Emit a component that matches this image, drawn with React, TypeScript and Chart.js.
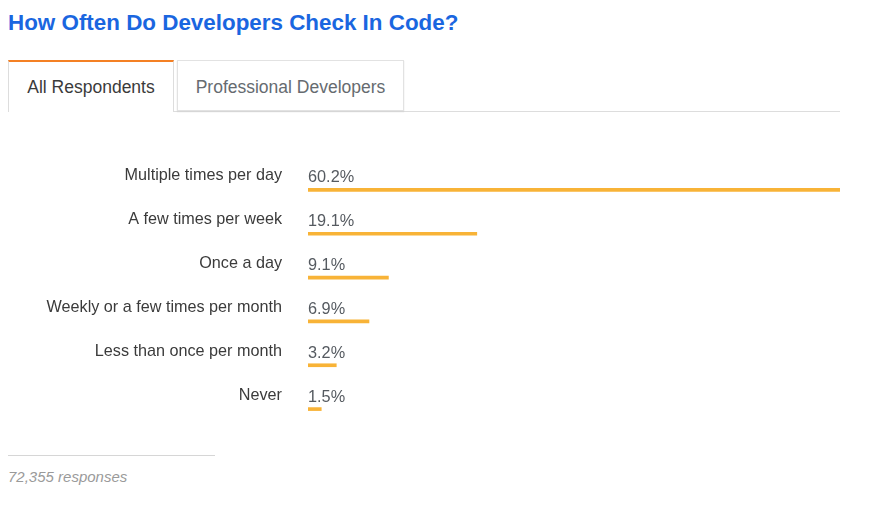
import React, { useEffect, useRef } from "react";
import { Chart, registerables } from "chart.js";

Chart.register(...registerables);

const categories = [
  "Multiple times per day",
  "A few times per week",
  "Once a day",
  "Weekly or a few times per month",
  "Less than once per month",
  "Never",
];
const values = [60.2, 19.1, 9.1, 6.9, 3.2, 1.5];
const titleText = "How Often Do Developers Check In Code?";
const tabLabels = ["All Respondents", "Professional Developers"];
const footerText = "72,355 responses";

const FONT = "Arial, 'Liberation Sans', Helvetica, sans-serif";
const TEXT = "#3b3b3b";
const BAR = "#f8b337";

const valueLabels = {
  id: "valueLabels",
  afterDatasetsDraw(chart: any) {
    const ctx = chart.ctx;
    const meta = chart.getDatasetMeta(0);
    ctx.save();
    ctx.font = `16.3px ${FONT}`;
    ctx.fillStyle = "#555a60";
    ctx.textAlign = "left";
    ctx.textBaseline = "middle";
    meta.data.forEach((bar: any, i: number) => {
      const v = chart.data.datasets[0].data[i];
      ctx.fillText(`${v.toFixed(1)}%`, bar.base, bar.y - 12);
    });
    ctx.restore();
  },
};

export default function App() {
  const canvasRef = useRef<HTMLCanvasElement | null>(null);

  useEffect(() => {
    if (!canvasRef.current) return;
    const chart = new Chart(canvasRef.current, {
      type: "bar",
      data: {
        labels: categories,
        datasets: [
          {
            data: values,
            backgroundColor: BAR,
            borderWidth: 0,
            barThickness: 3,
          },
        ],
      },
      options: {
        indexAxis: "y",
        animation: false,
        responsive: false,
        maintainAspectRatio: false,
        layout: { padding: { top: 18, bottom: 19, left: 0, right: 0 } },
        plugins: {
          legend: { display: false },
          tooltip: { enabled: false },
        },
        scales: {
          x: {
            display: false,
            min: 0,
            max: Math.max(...values),
          },
          y: {
            grid: { display: false, drawTicks: false },
            border: { display: false },
            ticks: {
              color: TEXT,
              font: { size: 16.2, family: FONT },
              padding: 26,
              labelOffset: -14,
            },
            afterFit(scale: any) {
              scale.width = 300;
              scale.paddingTop = 0;
              scale.paddingBottom = 0;
            },
          },
        },
      },
      plugins: [valueLabels],
    });
    return () => chart.destroy();
  }, []);

  return (
    <div style={{ position: "relative", width: 872, height: 510, fontFamily: FONT, margin: -8 }}>
      <div
        style={{
          position: "absolute",
          left: 8,
          top: 10,
          fontSize: 22.4,
          fontWeight: "bold",
          color: "#1a66e0",
          whiteSpace: "nowrap",
        }}
      >
        {titleText}
      </div>
      {/* tab baseline */}
      <div style={{ position: "absolute", left: 8, top: 111, width: 832, height: 1, background: "#dddddd" }} />
      {/* active tab */}
      <div
        style={{
          position: "absolute",
          left: 8,
          top: 60,
          width: 164,
          height: 50,
          borderTop: "2px solid #f48024",
          borderLeft: "1px solid #dddddd",
          borderRight: "1px solid #dddddd",
          background: "#fff",
          boxSizing: "content-box",
          display: "flex",
          alignItems: "center",
          justifyContent: "center",
          fontSize: 17.5,
          color: TEXT,
          whiteSpace: "nowrap",
        }}
      >
        {tabLabels[0]}
      </div>
      {/* inactive tab */}
      <div
        style={{
          position: "absolute",
          left: 177,
          top: 60,
          width: 225,
          height: 46,
          paddingTop: 3,
          border: "1px solid #e2e2e2",
          boxShadow: "0 1px 1px #d6d6d6",
          background: "#fff",
          display: "flex",
          alignItems: "center",
          justifyContent: "center",
          fontSize: 17.5,
          color: "#666b70",
          whiteSpace: "nowrap",
        }}
      >
        {tabLabels[1]}
      </div>
      <div style={{ position: "absolute", left: 8, top: 150, width: 832, height: 300 }}>
        <canvas ref={canvasRef} width={832} height={300} style={{ width: 832, height: 300, display: "block" }} />
      </div>
      <div style={{ position: "absolute", left: 8, top: 455, width: 207, height: 1, background: "#d6d6d6" }} />
      <div
        style={{
          position: "absolute",
          left: 8,
          top: 468,
          fontSize: 15,
          fontStyle: "italic",
          color: "#9a9a9a",
          whiteSpace: "nowrap",
        }}
      >
        {footerText}
      </div>
    </div>
  );
}
